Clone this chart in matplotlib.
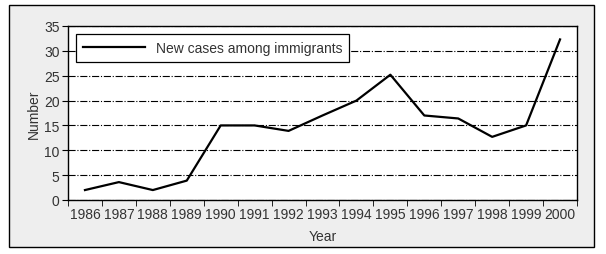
import matplotlib.pyplot as plt
from matplotlib.patches import Rectangle
import numpy as np

years = ['1986', '1987', '1988', '1989', '1990', '1991', '1992', '1993',
         '1994', '1995', '1996', '1997', '1998', '1999', '2000']
cases = [2, 3.6, 2, 3.9, 15, 15, 13.9, 17, 20, 25.2, 17, 16.4, 12.7, 15, 32.3]

plt.rcParams['font.family'] = ['Liberation Sans', 'DejaVu Sans']
plt.rcParams['font.size'] = 10

fig = plt.figure(figsize=(6.06, 2.55), dpi=100)
fig.patches.append(Rectangle((9 / 606, 7 / 255), 585 / 606, 242 / 255,
                             transform=fig.transFigure, facecolor='#eeeeee',
                             edgecolor='black', linewidth=1, zorder=-1))

ax = fig.add_axes([68 / 606, 54 / 255, 509 / 606, 174 / 255])
x = np.arange(len(years))
ax.plot(x, cases, color='black', lw=1.6, label='New cases among immigrants')

ax.set_xlim(-0.5, len(years) - 0.5)
ax.set_ylim(0, 35)
ax.set_yticks(range(0, 36, 5))
ax.set_xticks(x)
ax.set_xticklabels(years, color='#333333')
ax.set_xticks(np.arange(-0.5, len(years), 1), minor=True)
ax.tick_params(axis='x', which='major', length=0, pad=5)
ax.tick_params(axis='x', which='minor', length=4, direction='out')
ax.tick_params(axis='y', length=4, direction='out', pad=2, labelcolor='#333333')
ax.yaxis.grid(True, color='black', linestyle='-.', linewidth=0.8)
ax.set_axisbelow(True)
for s in ax.spines.values():
    s.set_linewidth(1)

ax.set_xlabel('Year', color='#333333', labelpad=6)
ax.set_ylabel('Number', color='#333333', labelpad=2)

leg = ax.legend(loc='upper left', bbox_to_anchor=(0.0, 1.0), fancybox=False,
                framealpha=1, edgecolor='black', handlelength=4.5,
                borderpad=0.5, handletextpad=0.75, borderaxespad=0.55)
leg.get_frame().set_linewidth(0.9)
for t in leg.get_texts():
    t.set_color('#333333')

fig.savefig('out.png', dpi=100)
